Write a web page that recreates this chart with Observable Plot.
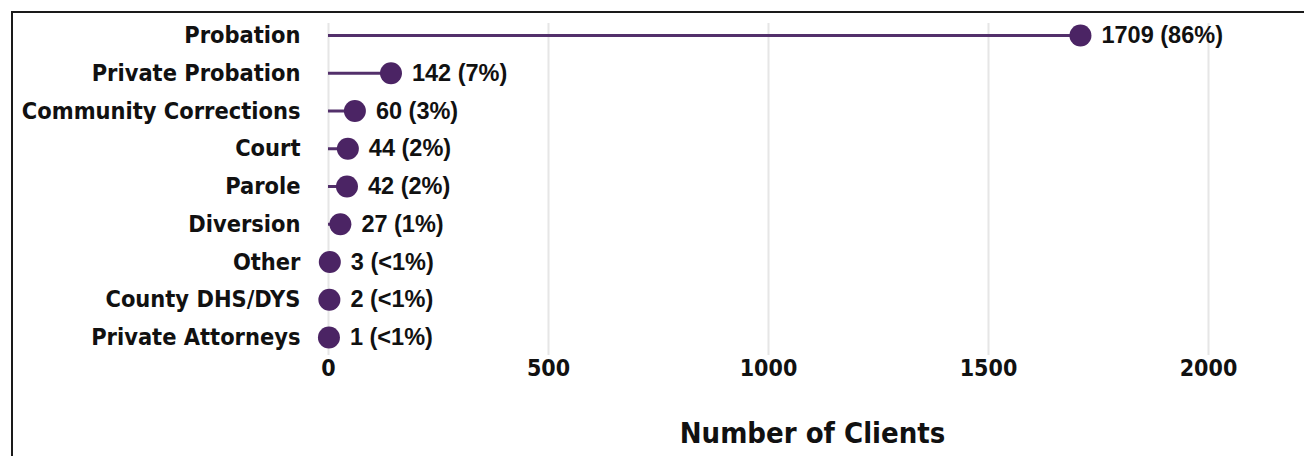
<!DOCTYPE html>
<html><head><meta charset="utf-8">
<script src="https://cdn.jsdelivr.net/npm/d3@7"></script>
<script src="https://cdn.jsdelivr.net/npm/@observablehq/plot@0.6"></script>
<style>
body{margin:0;background:#fff;}
#frame{position:absolute;left:11px;top:11px;width:1293px;height:445px;border-top:2px solid #1a1a1a;border-left:2px solid #1a1a1a;box-sizing:border-box;}
#chart{position:absolute;left:0;top:0;}
</style></head><body><div id="frame"></div><div id="chart"></div>
<script>
const categories = ["Probation","Private Probation","Community Corrections","Court","Parole","Diversion","Other","County DHS/DYS","Private Attorneys"];
const counts = [1709,142,60,44,42,27,3,2,1];
const valueLabels = ["1709 (86%)","142 (7%)","60 (3%)","44 (2%)","42 (2%)","27 (1%)","3 (<1%)","2 (<1%)","1 (<1%)"];
const xTicks = [0,500,1000,1500,2000];
const axisTitle = "Number of Clients";

const data = categories.map((c,i)=>({category:c, count:counts[i], label:valueLabels[i]}));
const catFont = "'DejaVu Sans Condensed','DejaVu Sans',sans-serif";
const plot = Plot.plot({
  width:1304, height:456, marginLeft:328, marginRight:8, marginTop:23, marginBottom:101,
  x:{domain:[0,2200]},
  y:{type:"point", domain:categories, range:[35,337], padding:0, round:false},
  style:{background:"transparent", color:"#111"},
  marks:[
    Plot.gridX(xTicks,{stroke:"#e6e6e6", strokeOpacity:1, strokeWidth:2}),
    Plot.axisX(xTicks,{tickSize:0, tickPadding:4, fontSize:23, fontWeight:"bold", fontFamily:catFont, label:null, tickFormat:d=>String(d)}),
    Plot.axisY({tickSize:0, tickPadding:28, fontSize:23.4, fontWeight:"bold", fontFamily:catFont, label:null}),
    Plot.ruleY(data,{y:"category", x1:0, x2:"count", stroke:"#53306b", strokeWidth:3}),
    Plot.dot(data,{x:"count", y:"category", r:11, fill:"#4b2464"}),
    Plot.text(data,{x:"count", y:"category", text:"label", dx:21, textAnchor:"start", fontSize:23.5, fontWeight:"bold", fontFamily:"'Liberation Sans',Arial,sans-serif", fill:"#111"}),
    Plot.text([axisTitle],{frameAnchor:"bottom", dy:87, text:d=>d, fontSize:29, fontWeight:"bold", fontFamily:catFont, fill:"#111"})
  ]
});
document.getElementById("chart").append(plot);
</script></body></html>
